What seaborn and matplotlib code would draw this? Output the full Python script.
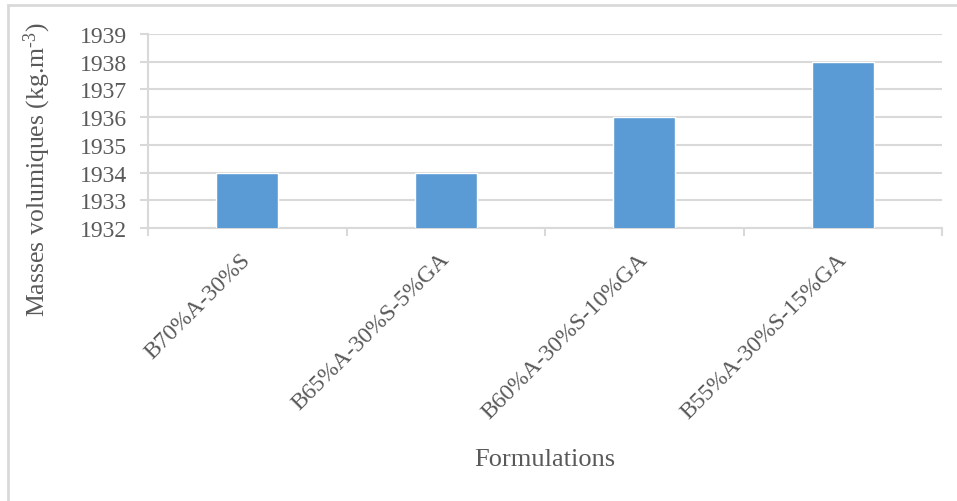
#!/usr/bin/python3

from matplotlib import pyplot as plt
from matplotlib.patches import Rectangle
from matplotlib.transforms import ScaledTranslation
import pandas as pd
import seaborn as sns

formulations = ['B70%A-30%S', 'B65%A-30%S-5%GA', 'B60%A-30%S-10%GA', 'B55%A-30%S-15%GA']
masses = [1934, 1934, 1936, 1938]
y_ticks = [1932, 1933, 1934, 1935, 1936, 1937, 1938, 1939]

TEXT = '#595959'
GRID = '#D9D9D9'

df = pd.DataFrame({'formulation': formulations, 'masse': masses})

sns.set_theme(style='white')
plt.rcParams['font.family'] = ['Liberation Serif', 'DejaVu Serif']
plt.rcParams['mathtext.fontset'] = 'custom'
plt.rcParams['mathtext.rm'] = 'Liberation Serif'
plt.rcParams['mathtext.it'] = 'Liberation Serif:italic'

fig = plt.figure(figsize=(9.57, 5.02), dpi=100)
ax = fig.add_axes([148 / 957, 1 - 229 / 502, (942 - 148) / 957, (229 - 35) / 502])

sns.barplot(x='formulation', y='masse', data=df, color='#5B9BD5', width=0.313,
            saturation=1, ax=ax, zorder=3)

ax.set_ylim(1932, 1939)
ax.set_xlim(-0.5, len(formulations) - 0.5)
ax.set_yticks(y_ticks)
ax.set_yticklabels([str(v) for v in y_ticks], fontsize=17, color=TEXT)
ax.yaxis.grid(True, color=GRID, linewidth=1.5, zorder=0)
ax.set_axisbelow(True)

ax.set_xticks(range(len(formulations)))
ax.set_xticklabels(formulations, rotation=45, ha='right', rotation_mode='anchor',
                   fontsize=17, color=TEXT)
ax.set_xticks([i - 0.5 for i in range(len(formulations) + 1)], minor=True)
ax.tick_params(axis='x', which='major', length=0, pad=14)
ax.tick_params(axis='x', which='minor', length=6, width=1.5, color=GRID, bottom=True)
ax.tick_params(axis='y', length=6, width=1.5, color=GRID, left=True, pad=9)

# shift rotated labels a bit to the left, like the reference
shift = ScaledTranslation(-7 / 100, -1 / 100, fig.dpi_scale_trans)
for lbl in ax.get_xticklabels():
    lbl.set_transform(lbl.get_transform() + shift)

for side in ['top', 'right']:
    ax.spines[side].set_visible(False)
for side in ['left', 'bottom']:
    ax.spines[side].set_color(GRID)
    ax.spines[side].set_linewidth(1.5)

ax.set_xlabel('')
ax.set_ylabel('')
fig.text(37 / 957, 1 - 170 / 502, 'Masses volumiques (kg.m$^{\\mathrm{\u20103}}$)', rotation=90,
         ha='center', va='center', fontsize=18.5, color=TEXT)
fig.text(545 / 957, 1 - 460 / 502, 'Formulations', ha='center', va='center',
         fontsize=19, color=TEXT)

fig.patches.append(Rectangle((8 / 957, -0.05), 1.1, 1 - 6 / 502 + 0.05, transform=fig.transFigure,
                             fill=False, edgecolor=GRID, linewidth=2))

plt.savefig('out.png', dpi=100)
